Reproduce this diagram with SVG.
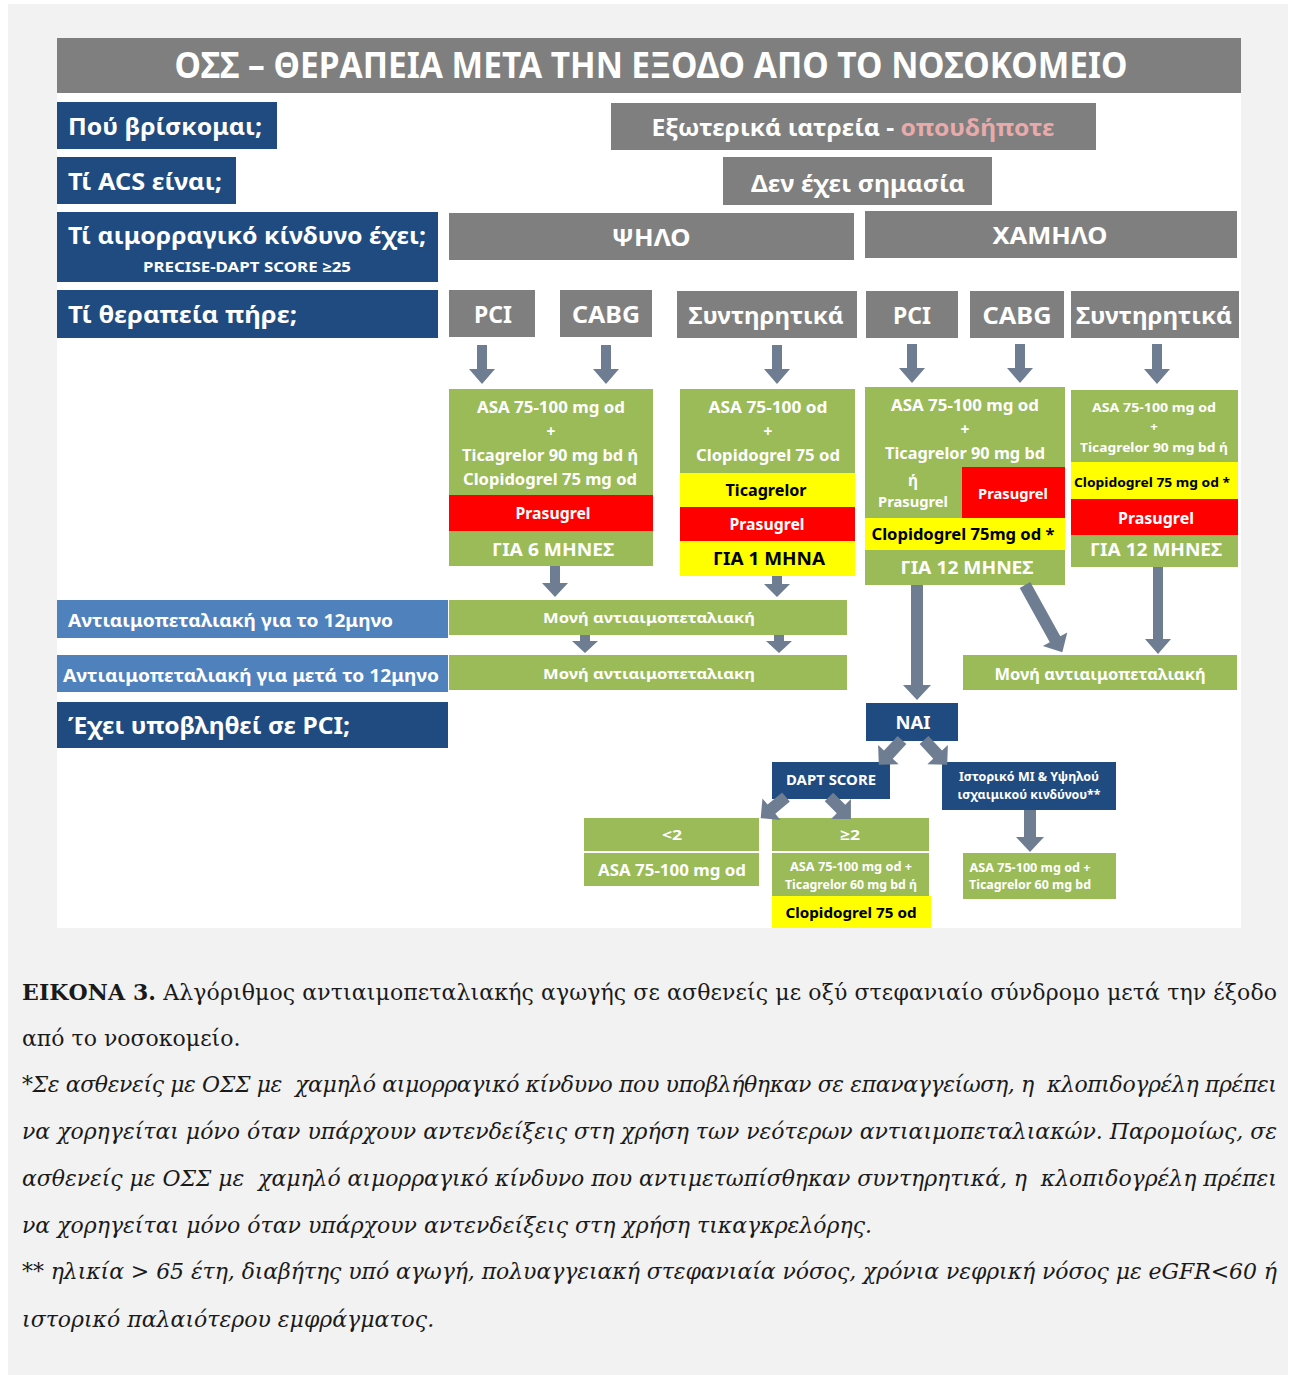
<svg xmlns="http://www.w3.org/2000/svg" width="1290" height="1375" viewBox="0 0 1290 1375">
<style>
  .t{font-family:"Noto Sans","Open Sans",sans-serif;font-weight:700;fill:#fff}
  .k{fill:#000}
  .m{text-anchor:middle}
  .navy{fill:#1f4b80}
  .sky{fill:#4f81bd}
  .gray{fill:#7f7f7f}
  .green{fill:#9bbb59}
  .red{fill:#ff0000}
  .yel{fill:#ffff00}
  .arr{fill:#6e7d91}
  .cap{font-family:"DejaVu Serif","Liberation Serif",serif;font-size:22px;fill:#1a1a1a;white-space:pre}
  .it{font-style:italic}
</style>

<!-- page -->
<rect x="0" y="0" width="1290" height="1375" fill="#ffffff"/>
<rect x="8" y="4" width="1280" height="1371" fill="#f2f2f2"/>
<rect x="57" y="38" width="1184" height="890" fill="#ffffff"/>

<!-- header -->
<g id="title">
  <rect x="57" y="38" width="1184" height="55" class="gray"/>
  <text x="651" y="78" class="t m" font-size="35" textLength="953" lengthAdjust="spacingAndGlyphs">ΟΣΣ – ΘΕΡΑΠΕΙΑ ΜΕΤΑ ΤΗΝ ΕΞΟΔΟ ΑΠΟ ΤΟ ΝΟΣΟΚΟΜΕΙΟ</text>
</g>

<!-- question column -->
<g id="q-where">
  <rect x="57" y="102" width="220" height="47" class="navy"/>
  <text x="68" y="135" class="t" font-size="24" textLength="194" lengthAdjust="spacingAndGlyphs">Πού βρίσκομαι;</text>
</g>
<g id="q-acs">
  <rect x="57" y="157" width="179" height="47" class="navy"/>
  <text x="68" y="190" class="t" font-size="24" textLength="154" lengthAdjust="spacingAndGlyphs">Τί ACS είναι;</text>
</g>
<g id="q-bleeding">
  <rect x="57" y="212" width="381" height="70" class="navy"/>
  <text x="68" y="244" class="t" font-size="24" textLength="358" lengthAdjust="spacingAndGlyphs">Τί αιμορραγικό κίνδυνο έχει;</text>
  <text x="247" y="272" class="t m" font-size="14" textLength="208" lengthAdjust="spacingAndGlyphs">PRECISE-DAPT SCORE ≥25</text>
</g>
<g id="q-treatment">
  <rect x="57" y="290" width="381" height="48" class="navy"/>
  <text x="68" y="323" class="t" font-size="24" textLength="229" lengthAdjust="spacingAndGlyphs">Τί θεραπεία πήρε;</text>
</g>
<g id="q-12m">
  <rect x="57" y="600" width="391" height="38" class="sky"/>
  <text x="68" y="627" class="t" font-size="17" textLength="325" lengthAdjust="spacingAndGlyphs">Αντιαιμοπεταλιακή για το 12μηνο</text>
</g>
<g id="q-after12m">
  <rect x="57" y="655" width="391" height="37" class="sky"/>
  <text x="63" y="682" class="t" font-size="17" textLength="376" lengthAdjust="spacingAndGlyphs">Αντιαιμοπεταλιακή για μετά το 12μηνο</text>
</g>
<g id="q-pci">
  <rect x="57" y="702" width="391" height="46" class="navy"/>
  <text x="68" y="734" class="t" font-size="24" textLength="282" lengthAdjust="spacingAndGlyphs">Έχει υποβληθεί σε PCI;</text>
</g>

<!-- answers -->
<g id="a-where">
  <rect x="611" y="103" width="485" height="47" class="gray"/>
  <text x="853" y="136" class="t m" font-size="24" textLength="403" lengthAdjust="spacingAndGlyphs">Εξωτερικά ιατρεία - <tspan fill="#e8aaaa">οπουδήποτε</tspan></text>
</g>
<g id="a-acs">
  <rect x="723" y="157" width="269" height="48" class="gray"/>
  <text x="858" y="192" class="t m" font-size="24" textLength="214" lengthAdjust="spacingAndGlyphs">Δεν έχει σημασία</text>
</g>
<g id="risk-high">
  <rect x="449" y="213" width="405" height="47" class="gray"/>
  <text x="651" y="246" class="t m" font-size="24" textLength="79" lengthAdjust="spacingAndGlyphs">ΨΗΛΟ</text>
</g>
<g id="risk-low">
  <rect x="865" y="211" width="372" height="47" class="gray"/>
  <text x="1050" y="244" class="t m" font-size="24" textLength="115" lengthAdjust="spacingAndGlyphs">ΧΑΜΗΛΟ</text>
</g>

<!-- treatment received -->
<g id="high-pci">
  <rect x="449" y="290" width="86" height="47" class="gray"/>
  <text x="493" y="323" class="t m" font-size="24" textLength="38" lengthAdjust="spacingAndGlyphs">PCI</text>
</g>
<g id="high-cabg">
  <rect x="560" y="290" width="92" height="47" class="gray"/>
  <text x="606" y="323" class="t m" font-size="24" textLength="68" lengthAdjust="spacingAndGlyphs">CABG</text>
</g>
<g id="high-cons">
  <rect x="677" y="291" width="180" height="47" class="gray"/>
  <text x="766" y="324" class="t m" font-size="24" textLength="155" lengthAdjust="spacingAndGlyphs">Συντηρητικά</text>
</g>
<g id="low-pci">
  <rect x="866" y="291" width="92" height="47" class="gray"/>
  <text x="912" y="324" class="t m" font-size="24" textLength="38" lengthAdjust="spacingAndGlyphs">PCI</text>
</g>
<g id="low-cabg">
  <rect x="970" y="291" width="94" height="47" class="gray"/>
  <text x="1017" y="324" class="t m" font-size="24" textLength="69" lengthAdjust="spacingAndGlyphs">CABG</text>
</g>
<g id="low-cons">
  <rect x="1071" y="291" width="168" height="47" class="gray"/>
  <text x="1154" y="324" class="t m" font-size="24" textLength="156" lengthAdjust="spacingAndGlyphs">Συντηρητικά</text>
</g>

<!-- regimens -->
<g id="rx-high-invasive">
  <rect x="449" y="389" width="204" height="177" class="green"/>
  <rect x="449" y="495" width="204" height="36" class="red"/>
  <text x="551" y="413" class="t m" font-size="15.5" textLength="148" lengthAdjust="spacingAndGlyphs">ASA 75-100 mg od</text>
  <text x="551" y="437" class="t m" font-size="15.5">+</text>
  <text x="550" y="461" class="t m" font-size="15.5" textLength="176" lengthAdjust="spacingAndGlyphs">Ticagrelor 90 mg bd ή</text>
  <text x="550" y="485" class="t m" font-size="15.5" textLength="174" lengthAdjust="spacingAndGlyphs">Clopidogrel 75 mg od</text>
  <text x="553" y="519" class="t m" font-size="15.5" textLength="75" lengthAdjust="spacingAndGlyphs">Prasugrel</text>
  <text x="553" y="556" class="t m" font-size="17.5" textLength="122" lengthAdjust="spacingAndGlyphs">ΓΙΑ 6 ΜΗΝΕΣ</text>
</g>
<g id="rx-high-cons">
  <rect x="680" y="389" width="175" height="84" class="green"/>
  <rect x="680" y="473" width="175" height="34" class="yel"/>
  <rect x="680" y="507" width="175" height="34" class="red"/>
  <rect x="680" y="541" width="175" height="35" class="yel"/>
  <text x="768" y="413" class="t m" font-size="15.5" textLength="119" lengthAdjust="spacingAndGlyphs">ASA 75-100 od</text>
  <text x="768" y="437" class="t m" font-size="15.5">+</text>
  <text x="768" y="461" class="t m" font-size="15.5" textLength="144" lengthAdjust="spacingAndGlyphs">Clopidogrel 75 od</text>
  <text x="766" y="496" class="t m k" font-size="15.5" textLength="81" lengthAdjust="spacingAndGlyphs">Ticagrelor</text>
  <text x="767" y="530" class="t m" font-size="15.5" textLength="75" lengthAdjust="spacingAndGlyphs">Prasugrel</text>
  <text x="769" y="565" class="t m k" font-size="17.5" textLength="112" lengthAdjust="spacingAndGlyphs">ΓΙΑ 1 ΜΗΝΑ</text>
</g>
<g id="rx-low-invasive">
  <rect x="865" y="387" width="200" height="198" class="green"/>
  <rect x="962" y="467" width="103" height="51" class="red"/>
  <rect x="865" y="518" width="200" height="32" class="yel"/>
  <text x="965" y="411" class="t m" font-size="15.5" textLength="148" lengthAdjust="spacingAndGlyphs">ASA 75-100 mg od</text>
  <text x="965" y="435" class="t m" font-size="15.5">+</text>
  <text x="965" y="459" class="t m" font-size="15.5" textLength="160" lengthAdjust="spacingAndGlyphs">Ticagrelor 90 mg bd</text>
  <text x="913" y="486" class="t m" font-size="15.5">ή</text>
  <text x="913" y="507" class="t m" font-size="14.5" textLength="70" lengthAdjust="spacingAndGlyphs">Prasugrel</text>
  <text x="1013" y="499" class="t m" font-size="15" textLength="70" lengthAdjust="spacingAndGlyphs">Prasugrel</text>
  <text x="963" y="540" class="t m k" font-size="15.5" textLength="183" lengthAdjust="spacingAndGlyphs">Clopidogrel 75mg od *</text>
  <text x="967" y="574" class="t m" font-size="17.5" textLength="133" lengthAdjust="spacingAndGlyphs">ΓΙΑ 12 ΜΗΝΕΣ</text>
</g>
<g id="rx-low-cons">
  <rect x="1071" y="390" width="167" height="177" class="green"/>
  <rect x="1071" y="462" width="167" height="37" class="yel"/>
  <rect x="1071" y="499" width="167" height="36" class="red"/>
  <text x="1154" y="412" class="t m" font-size="13" textLength="124" lengthAdjust="spacingAndGlyphs">ASA 75-100 mg od</text>
  <text x="1154" y="431" class="t m" font-size="13">+</text>
  <text x="1154" y="452" class="t m" font-size="13" textLength="148" lengthAdjust="spacingAndGlyphs">Ticagrelor 90 mg bd ή</text>
  <text x="1152" y="487" class="t m k" font-size="13" textLength="156" lengthAdjust="spacingAndGlyphs">Clopidogrel 75 mg od *</text>
  <text x="1156" y="524" class="t m" font-size="16" textLength="76" lengthAdjust="spacingAndGlyphs">Prasugrel</text>
  <text x="1156" y="556" class="t m" font-size="17.5" textLength="132" lengthAdjust="spacingAndGlyphs">ΓΙΑ 12 ΜΗΝΕΣ</text>
</g>

<!-- single antiplatelet -->
<g id="sapt-12m">
  <rect x="449" y="600" width="398" height="35" class="green"/>
  <text x="649" y="623" class="t m" font-size="15" textLength="212" lengthAdjust="spacingAndGlyphs">Μονή αντιαιμοπεταλιακή</text>
</g>
<g id="sapt-after">
  <rect x="449" y="655" width="398" height="35" class="green"/>
  <text x="649" y="679" class="t m" font-size="15" textLength="212" lengthAdjust="spacingAndGlyphs">Μονή αντιαιμοπεταλιακη</text>
</g>
<g id="sapt-low">
  <rect x="963" y="655" width="274" height="35" class="green"/>
  <text x="1100" y="680" class="t m" font-size="16" textLength="211" lengthAdjust="spacingAndGlyphs">Μονή αντιαιμοπεταλιακή</text>
</g>

<!-- extended therapy after PCI -->
<g id="yes">
  <rect x="866" y="703" width="92" height="38" class="navy"/>
  <text x="913" y="729" class="t m" font-size="17" textLength="35" lengthAdjust="spacingAndGlyphs">NAI</text>
</g>
<g id="dapt-score">
  <rect x="772" y="762" width="118" height="37" class="navy"/>
  <text x="831" y="785" class="t m" font-size="14" textLength="90" lengthAdjust="spacingAndGlyphs">DAPT SCORE</text>
</g>
<g id="mi-history">
  <rect x="942" y="762" width="174" height="48" class="navy"/>
  <text x="1029" y="781" class="t m" font-size="11.5" textLength="140" lengthAdjust="spacingAndGlyphs">Ιστορικό MI &amp; Υψηλού</text>
  <text x="1029" y="799" class="t m" font-size="11.5" textLength="143" lengthAdjust="spacingAndGlyphs">ισχαιμικού κινδύνου**</text>
</g>
<g id="score-lt2">
  <rect x="584" y="818" width="175" height="33" class="green"/>
  <text x="672" y="840" class="t m" font-size="15" textLength="20" lengthAdjust="spacingAndGlyphs">&lt;2</text>
  <rect x="584" y="853" width="175" height="33" class="green"/>
  <text x="672" y="876" class="t m" font-size="15.5" textLength="148" lengthAdjust="spacingAndGlyphs">ASA 75-100 mg od</text>
</g>
<g id="score-ge2">
  <rect x="772" y="818" width="157" height="33" class="green"/>
  <text x="850" y="840" class="t m" font-size="15" textLength="20" lengthAdjust="spacingAndGlyphs">≥2</text>
  <rect x="772" y="853" width="157" height="43" class="green"/>
  <text x="851" y="871" class="t m" font-size="11.5" textLength="122" lengthAdjust="spacingAndGlyphs">ASA 75-100 mg od +</text>
  <text x="851" y="889" class="t m" font-size="11.5" textLength="132" lengthAdjust="spacingAndGlyphs">Ticagrelor 60 mg bd ή</text>
  <rect x="772" y="896" width="159" height="32" class="yel"/>
  <text x="851" y="918" class="t m k" font-size="14" textLength="131" lengthAdjust="spacingAndGlyphs">Clopidogrel 75 od</text>
</g>
<g id="mi-regimen">
  <rect x="963" y="853" width="153" height="46" class="green"/>
  <text x="1030" y="872" class="t m" font-size="11.5" textLength="121" lengthAdjust="spacingAndGlyphs">ASA 75-100 mg od +</text>
  <text x="1030" y="889" class="t m" font-size="11.5" textLength="122" lengthAdjust="spacingAndGlyphs">Ticagrelor 60 mg bd</text>
</g>

<!-- block arrows: each drawn pointing down from its origin, then rotated -->
<g id="connectors" class="arr">
  <polygon points="477,345 487,345 487,369 495,369 482,384 469,369 477,369"/>
  <polygon points="601,345 611,345 611,369 619,369 606,384 593,369 601,369"/>
  <polygon points="772,345 782,345 782,369 790,369 777,384 764,369 772,369"/>
  <polygon points="907,344 917,344 917,368 925,368 912,383 899,368 907,368"/>
  <polygon points="1015,344 1025,344 1025,368 1033,368 1020,383 1007,368 1015,368"/>
  <polygon points="1152,344 1162,344 1162,369 1170,369 1157,384 1144,369 1152,369"/>

  <polygon points="550,566 560,566 560,583 568,583 555,597 542,583 550,583"/>
  <polygon points="772,576 782,576 782,584 790,584 777,597 764,584 772,584"/>
  <polygon points="580,635 590,635 590,641 598,641 585,653 572,641 580,641"/>
  <polygon points="774,635 784,635 784,641 792,641 779,653 766,641 774,641"/>

  <polygon points="911,585 923,585 923,685 931,685 917,700 903,685 911,685"/>
  <polygon points="1153,567 1163,567 1163,639 1171,639 1158,654 1145,639 1153,639"/>
  <polygon transform="translate(1025,585) rotate(-29)" points="-6,0 6,0 6,62 14,62 0,77 -14,62 -6,62"/>

  <polygon transform="translate(902,740) rotate(43)" points="-6,0 6,0 6,20 14,20 0,34 -14,20 -6,20"/>
  <polygon transform="translate(924,740) rotate(-43)" points="-6,0 6,0 6,20 14,20 0,34 -14,20 -6,20"/>
  <polygon transform="translate(786,797) rotate(50)" points="-6,0 6,0 6,19 14,19 0,33 -14,19 -6,19"/>
  <polygon transform="translate(829,797) rotate(-45)" points="-6,0 6,0 6,17 14,17 0,31 -14,17 -6,17"/>
  <polygon points="1024,810 1036,810 1036,837 1044,837 1030,852 1016,837 1024,837"/>
</g>

<!-- figure caption -->
<g id="caption">
  <text x="22" y="1000" class="cap" textLength="1255"><tspan font-weight="700">ΕΙΚΟΝΑ 3.</tspan> Αλγόριθμος αντιαιμοπεταλιακής αγωγής σε ασθενείς με οξύ στεφανιαίο σύνδρομο μετά την έξοδο</text>
  <text x="22" y="1046" class="cap">από το νοσοκομείο.</text>
  <text x="22" y="1092" class="cap it" textLength="1255">*Σε ασθενείς με ΟΣΣ με  χαμηλό αιμορραγικό κίνδυνο που υποβλήθηκαν σε επαναγγείωση, η  κλοπιδογρέλη πρέπει</text>
  <text x="22" y="1139" class="cap it" textLength="1255">να χορηγείται μόνο όταν υπάρχουν αντενδείξεις στη χρήση των νεότερων αντιαιμοπεταλιακών. Παρομοίως, σε</text>
  <text x="22" y="1186" class="cap it" textLength="1255">ασθενείς με ΟΣΣ με  χαμηλό αιμορραγικό κίνδυνο που αντιμετωπίσθηκαν συντηρητικά, η  κλοπιδογρέλη πρέπει</text>
  <text x="22" y="1233" class="cap it">να χορηγείται μόνο όταν υπάρχουν αντενδείξεις στη χρήση τικαγκρελόρης.</text>
  <text x="22" y="1279" class="cap it" textLength="1255">** ηλικία &gt; 65 έτη, διαβήτης υπό αγωγή, πολυαγγειακή στεφανιαία νόσος, χρόνια νεφρική νόσος με eGFR&lt;60 ή</text>
  <text x="22" y="1327" class="cap it">ιστορικό παλαιότερου εμφράγματος.</text>
</g>
</svg>
